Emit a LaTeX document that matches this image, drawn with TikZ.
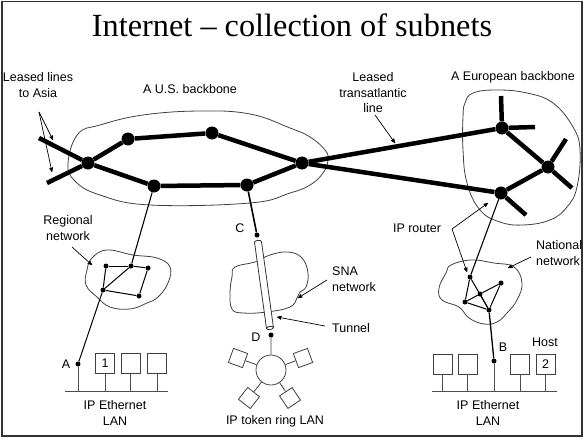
\documentclass[tikz,border=0pt]{standalone}
\usepackage{fontspec}
\setmainfont{Liberation Sans}
\newfontfamily\titlefont{Liberation Serif}
\usepackage{tikz}
\usetikzlibrary{arrows, positioning, calc}

\begin{document}
\begin{tikzpicture}[x=1pt,y=-1pt,>=stealth',
	big node/.style={circle,fill,inner sep=0pt,minimum size=13pt},
	small node/.style={circle,fill,inner sep=0pt,minimum size=5pt},
	host box/.style={draw=black!75,line width=0.8pt,minimum width=19pt,minimum height=20pt,inner sep=0pt,font=\fontsize{12.5}{15}\selectfont},
	ring box/.style={draw=black!75,line width=0.8pt,minimum size=15pt,inner sep=0pt},
	label text/.style={font=\fontsize{12.5}{15.5}\selectfont,inner sep=0pt,align=center},
	backbone/.style={line width=4.5pt},
	cloud/.style={draw=black!75,line width=0.8pt},
	pointer/.style={->,line width=0.7pt},
	lan/.style={draw=black!70,line width=1pt}]
	
	\useasboundingbox (0,0) rectangle (584,439);
	\draw[black!80,line width=1.5pt] (2,1.5) rectangle (582,436);
	
	\node[font=\titlefont\fontsize{32.3}{34}\selectfont,anchor=base] (title) at (292,36) {Internet – collection of subnets};
	
	% clouds
	\draw[cloud] plot[smooth cycle,tension=0.7] coordinates {(68,163) (78,134) (100,125) (143,115) (200,111) (250,114) (290,128) (310,137) (325,150) (328,160) (323,173) (310,185) (290,193) (250,203) (150,205) (100,195) (75,181)};
	\draw[cloud] plot[smooth cycle,tension=0.7] coordinates {(465,103) (473,93) (497,90) (527,93) (553,103) (573,127) (580,150) (577,187) (567,207) (550,220) (523,225) (500,222) (480,210) (467,183) (463,150) (463,117)};
	\draw[cloud] plot[smooth cycle,tension=0.7] coordinates {(92,258) (107,250) (133,255) (157,258) (170,267) (168,283) (158,297) (147,303) (130,309) (110,307) (97,297) (86,285) (87,270)};
	\draw[cloud] plot[smooth cycle,tension=0.7] coordinates {(451,265) (471,260) (494,263) (514,267) (522,283) (517,300) (507,313) (497,322) (484,324) (469,318) (459,307) (442,300) (439,288) (446,273)};
	\draw[cloud] plot[smooth cycle,tension=0.7] coordinates {(235,267) (255,262) (270,255) (288,252) (302,258) (308,273) (306,287) (300,292) (297,298) (290,307) (267,312) (243,313) (232,309) (230,293) (232,277)};
	
	% backbones
	\node[big node] (u1) at (88,163) {};
	\node[big node] (u2) at (128,139) {};
	\node[big node] (u3) at (212,133) {};
	\node[big node] (u4) at (302,163) {};
	\node[big node] (u5) at (247,185) {};
	\node[big node] (u6) at (154,186) {};
	\node[big node] (e1) at (502,128) {};
	\node[big node] (e2) at (548,167) {};
	\node[big node] (e3) at (501,193) {};
	\coordinate (asia1) at (39,138);
	\coordinate (asia2) at (47,183);
	\coordinate (e1up) at (501,96);
	\coordinate (e1right) at (535,127);
	\coordinate (e2up) at (566,139);
	\coordinate (e2down) at (572,188);
	\coordinate (e3down) at (526,215);
	
	\path[backbone]
	(u1) edge (u2) (u2) edge (u3) (u3) edge (u4)
	(u4) edge (u5) (u5) edge (u6) (u6) edge (u1)
	(asia1) edge (u1) (asia2) edge (u1)
	(u4) edge (e1) (u4) edge (e3)
	(e1) edge (e2) (e2) edge (e3)
	(e1) edge (e1up) (e1) edge (e1right)
	(e2) edge (e2up) (e2) edge (e2down)
	(e3) edge (e3down);
	
	% regional network
	\node[small node] (r1) at (106,266) {};
	\node[small node] (r2) at (131,266) {};
	\node[small node] (r3) at (148,268) {};
	\node[small node] (r4) at (103,290) {};
	\node[small node] (r5) at (139,296) {};
	\path[line width=1pt]
	(r1) edge (r2) (r2) edge (r3) (r3) edge (r5)
	(r5) edge (r4) (r4) edge (r1) (r4) edge (r2);
	\draw[line width=1.1pt] (u6) -- (r2);
	
	% national network
	\node[small node] (n1) at (470,277) {};
	\node[small node] (n2) at (501,283) {};
	\node[small node] (n3) at (480,294) {};
	\node[small node] (n4) at (465,302) {};
	\node[small node] (n5) at (489,310) {};
	\path[line width=1pt]
	(n1) edge (n4) (n1) edge (n5) (n4) edge (n3) (n3) edge (n2)
	(n2) edge (n5) (n4) edge (n5) (n3) edge (n5);
	\draw[line width=1.1pt] (e3) -- (n1);
	
	% tunnel through SNA
	\node[small node] (C) at (257,235) {};
	\node[small node] (D) at (271,335) {};
	\draw[line width=1.6pt] (u5) -- (C);
	\begin{scope}[shift={(264,285)},rotate=-82.06,black!80,line width=0.8pt]
		\draw[fill=white] (-43.4,3.5) .. controls (-45.6,3.5) and (-45.6,-3.5) .. (-43.4,-3.5) -- (43.4,-3.5) -- (43.4,3.5) -- cycle;
		\draw[fill=white] (43.4,0) ellipse [x radius=1.6,y radius=3.5];
	\end{scope}
	
	% token ring
	\node[circle,draw=black!75,line width=0.8pt,minimum size=30pt,inner sep=0pt] (ring) at (271,370) {};
	\node[ring box,rotate=-20] (rb1) at (238,358) {};
	\node[ring box,rotate=20] (rb2) at (303,358) {};
	\node[ring box,rotate=-38] (rb3) at (249,398) {};
	\node[ring box,rotate=34] (rb4) at (290,398) {};
	\draw[line width=0.8pt,black!75] (D) -- (ring)
	(ring) -- (rb1) (ring) -- (rb2) (ring) -- (rb3) (ring) -- (rb4);
	
	% ethernets
	\node[small node] (A) at (78,364) {};
	\node[host box] (h1) at (105,363.5) {1};
	\node[host box] (h2) at (130.5,363.5) {};
	\node[host box] (h3) at (157,363.5) {};
	\coordinate (busAl) at (65,391);
	\coordinate (busAr) at (168,391);
	\draw[line width=1pt] (r4) -- (A);
	\draw[lan] (busAl) -- (busAr)
	(A) -- (A |- busAl) (h1.south) -- (h1.south |- busAl)
	(h2.south) -- (h2.south |- busAl) (h3.south) -- (h3.south |- busAl);
	
	\node[small node] (B) at (494,361) {};
	\node[host box] (h4) at (442.5,364) {};
	\node[host box] (h5) at (467.5,364) {};
	\node[host box] (h6) at (520,364) {};
	\node[host box] (h7) at (545.5,364) {2};
	\coordinate (busBl) at (432,391);
	\coordinate (busBr) at (557,391);
	\draw[line width=1.3pt] (n5) -- (B);
	\draw[lan] (busBl) -- (busBr)
	(B) -- (B |- busBl) (h4.south) -- (h4.south |- busBl)
	(h5.south) -- (h5.south |- busBl) (h6.south) -- (h6.south |- busBl)
	(h7.south) -- (h7.south |- busBl);
	
	% labels
	\node[label text] (asia) at (38,85) {Leased lines\\to Asia};
	\node[label text] (usbb) at (190,89) {A U.S. backbone};
	\node[label text] (transat) at (373,93) {Leased\\transatlantic\\line};
	\node[label text] (eubb) at (513,77) {A European backbone};
	\node[label text] (regional) at (68,228) {Regional\\network};
	\node[label text] (router) at (417,228) {IP router};
	\node[label text,align=left,anchor=west] (national) at (536,253) {National\\network};
	\node[label text,align=left,anchor=west] (sna) at (332,279) {SNA\\network};
	\node[label text,anchor=west] (tunnellabel) at (332,328) {Tunnel};
	\node[label text] (host) at (545,342) {Host};
	\node[label text] at (240,228) {C};
	\node[label text] at (256,337) {D};
	\node[label text] at (66,364) {A};
	\node[label text] at (503,347) {B};
	\node[label text] (lanA) at (115,413) {IP Ethernet\\LAN};
	\node[label text] (lanB) at (488,413) {IP Ethernet\\LAN};
	\node[label text] (ringlan) at (275,421) {IP token ring LAN};
	
	% pointers
	\coordinate (asia fork) at (39,112);
	\coordinate (asia tip1) at (53,140);
	\coordinate (asia tip2) at (52,172);
	\coordinate (transat tail) at (375,115);
	\coordinate (transat tip) at (395,143);
	\coordinate (regional tail) at (72,247);
	\coordinate (regional tip) at (92,265);
	\coordinate (router fork) at (452,229);
	\coordinate (router tip1) at (488,203);
	\coordinate (router tip2) at (467,272);
	\coordinate (national tail) at (531,257);
	\coordinate (national tip) at (508,268);
	\coordinate (sna tail) at (327,280);
	\coordinate (sna tip) at (298,298);
	\coordinate (tunnel tail) at (325,326);
	\coordinate (tunnel tip) at (277,317);
	\draw[pointer] (asia fork) -- (asia tip1);
	\draw[pointer] (asia fork) -- (asia tip2);
	\draw[pointer] (transat tail) -- (transat tip);
	\draw[pointer] (regional tail) -- (regional tip);
	\draw[pointer] (router fork) -- (router tip1);
	\draw[pointer] (router fork) -- (router tip2);
	\draw[pointer] (national tail) -- (national tip);
	\draw[pointer] (sna tail) -- (sna tip);
	\draw[pointer] (tunnel tail) -- (tunnel tip);
\end{tikzpicture}
\end{document}
